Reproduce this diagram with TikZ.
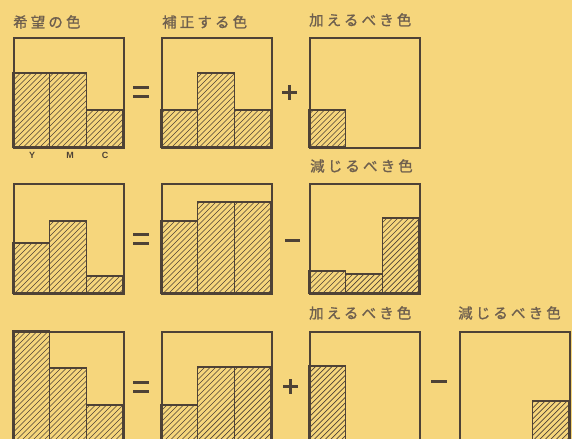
\documentclass[tikz,border=0pt]{standalone}
\usepackage{fontspec}
\newfontfamily\jp[LetterSpace=22,FakeBold=1.2]{Noto Sans CJK JP}
\setsansfont{Liberation Sans}
\definecolor{bg}{HTML}{F6D67C}
\definecolor{ink}{HTML}{4E4236}
\definecolor{txt}{HTML}{6E5F4E}
\tikzset{
  frame/.style={draw=ink, line width=2pt},
  divline/.style={draw=ink, line width=1.4pt},
  hatchline/.style={draw=ink, line width=0.7pt},
  op/.style={draw=ink, line width=2.6pt},
  lbl/.style={anchor=west, inner sep=0pt, text=txt, font=\jp\fontsize{14.5}{14.5}\selectfont},
  ymc/.style={inner sep=0pt, text=ink, font=\sffamily\bfseries\fontsize{9}{9}\selectfont}
}
% hatched rectangle: x1,y1 (top-left), x2,y2 (bottom-right), screen coords
\newcommand\hatchrect[4]{%
  \begin{scope}
    \clip (#1,#2) rectangle (#3,#4);
    \pgfmathtruncatemacro\ia{floor((#1+#2)/5.5)}
    \pgfmathtruncatemacro\ib{ceil((#3+#4)/5.5)}
    \foreach \i in {\ia,...,\ib} {\draw[hatchline] (\i*5.5-#4,#4) -- (\i*5.5-#2,#2);}
  \end{scope}
  \draw[divline] (#1,#2) rectangle (#3,#4);}
% bar chart box: x, top, Y top, M top, C top (use bottom value for none)
\newcommand\chartbox[6]{%
  \pgfmathsetmacro\xa{#1}\pgfmathsetmacro\xb{#1+110/3}\pgfmathsetmacro\xc{#1+220/3}\pgfmathsetmacro\xd{#1+110}
  \pgfmathsetmacro\yb{#2+110}
  \ifdim #3pt<\yb pt \hatchrect{\xa}{#3}{\xb}{\yb}\fi
  \ifdim #4pt<\yb pt \hatchrect{\xb}{#4}{\xc}{\yb}\fi
  \ifdim #5pt<\yb pt \hatchrect{\xc}{#5}{\xd}{\yb}\fi
  \node[minimum width=110bp, minimum height=110bp, inner sep=0pt, frame, anchor=north west] (#6) at (#1,#2) {};}
\begin{document}
\begin{tikzpicture}[x=1bp,y=-1bp]
\fill[bg] (0,0) rectangle (572,439);
\useasboundingbox (0,0) rectangle (572,439);
\clip (0,0) rectangle (572,439);
% row 1
\chartbox{13}{37}{73}{73}{110}{a1}
\chartbox{161}{37}{110}{73}{110}{a2}
\chartbox{309}{37}{110}{147}{147}{a3}
% row 2
\chartbox{13}{183}{243}{221}{276}{b1}
\chartbox{161}{183}{221}{202}{202}{b2}
\chartbox{309}{183}{271}{274}{218}{b3}
% row 3
\chartbox{13}{331}{331}{368}{405}{c1}
\chartbox{161}{331}{405}{367}{367}{c2}
\chartbox{309}{331}{366}{441}{441}{c3}
\chartbox{459}{331}{441}{441}{401}{c4}
% operators
\draw[op] (133,87.5) -- (149,87.5) (133,96.5) -- (149,96.5);
\draw[op] (282,92.5) -- (297,92.5) (289.5,85) -- (289.5,100);
\draw[op] (133,234.5) -- (149,234.5) (133,243.5) -- (149,243.5);
\draw[op] (285,240.5) -- (300,240.5);
\draw[op] (133,382.5) -- (149,382.5) (133,391.5) -- (149,391.5);
\draw[op] (283,386.5) -- (298,386.5) (290.5,379) -- (290.5,394);
\draw[op] (431,381.5) -- (447,381.5);
% labels
\node[lbl] (t1) at (13,22) {希望の色};
\node[lbl] (t2) at (162,22) {補正する色};
\node[lbl] (t3) at (309,20) {加えるべき色};
\node[lbl] (t4) at (310,166) {減じるべき色};
\node[lbl] (t5) at (309,313) {加えるべき色};
\node[lbl] (t6) at (458,313) {減じるべき色};
\node[ymc] (ly) at (32,155) {Y};
\node[ymc] (lm) at (70,155) {M};
\node[ymc] (lc) at (105,155) {C};
\end{tikzpicture}
\end{document}
